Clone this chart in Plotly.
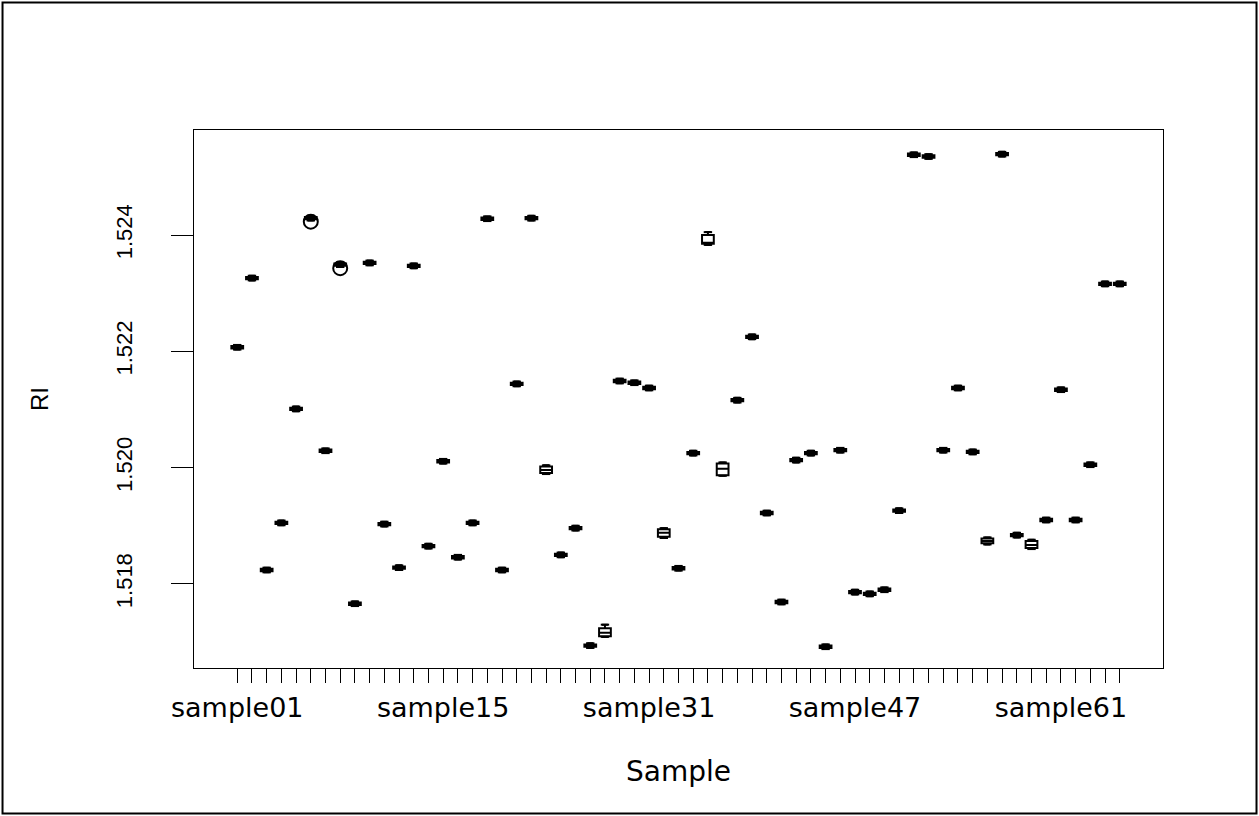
import plotly.graph_objects as go

samples = ["sample01", "sample02", "sample03", "sample04", "sample05", "sample06", "sample07", "sample08",
           "sample09", "sample10", "sample11", "sample12", "sample13", "sample14", "sample15", "sample16",
           "sample17", "sample18", "sample19", "sample20", "sample22", "sample23", "sample24", "sample25",
           "sample27", "sample28", "sample29", "sample30", "sample31", "sample32", "sample33", "sample34",
           "sample35", "sample36", "sample38", "sample39", "sample40", "sample41", "sample43", "sample44",
           "sample45", "sample46", "sample47", "sample48", "sample49", "sample50", "sample51", "sample52",
           "sample53", "sample54", "sample55", "sample56", "sample57", "sample58", "sample59", "sample60",
           "sample61", "sample62", "sample63", "sample64", "sample65"]

shown_labels = ["sample01", "sample15", "sample31", "sample47", "sample61"]

median = [1.52207, 1.52326, 1.51824, 1.51905, 1.52101, 1.52429, 1.52029, 1.52349, 1.51766, 1.52352,
          1.51903, 1.51828, 1.52347, 1.51865, 1.52011, 1.51846, 1.51905, 1.52428, 1.51824, 1.52144,
          1.52429, 1.51996, 1.51850, 1.51896, 1.51694, 1.51716, 1.52149, 1.52146, 1.52137, 1.51888,
          1.51827, 1.52025, 1.52386, 1.51998, 1.52116, 1.52225, 1.51922, 1.51769, 1.52013, 1.52025,
          1.51692, 1.52030, 1.51786, 1.51783, 1.51790, 1.51926, 1.52538, 1.52535, 1.52030, 1.52137,
          1.52027, 1.51874, 1.52539, 1.51884, 1.51867, 1.51910, 1.52134, 1.51910, 1.52005, 1.52316,
          1.52316]

q1 = [1.52205, 1.52324, 1.51822, 1.51903, 1.52099, 1.52427, 1.52027, 1.52347, 1.51764, 1.52350,
      1.51901, 1.51826, 1.52345, 1.51863, 1.52009, 1.51844, 1.51903, 1.52426, 1.51822, 1.52142,
      1.52427, 1.51991, 1.51848, 1.51894, 1.51692, 1.51710, 1.52147, 1.52144, 1.52135, 1.51881,
      1.51825, 1.52023, 1.52385, 1.51987, 1.52114, 1.52223, 1.51920, 1.51767, 1.52011, 1.52023,
      1.51690, 1.52028, 1.51784, 1.51781, 1.51788, 1.51924, 1.52536, 1.52533, 1.52028, 1.52135,
      1.52025, 1.51870, 1.52537, 1.51882, 1.51862, 1.51908, 1.52132, 1.51908, 1.52003, 1.52314,
      1.52314]

q3 = [1.52209, 1.52328, 1.51826, 1.51907, 1.52103, 1.52431, 1.52031, 1.52351, 1.51768, 1.52354,
      1.51905, 1.51830, 1.52349, 1.51867, 1.52013, 1.51848, 1.51907, 1.52430, 1.51826, 1.52146,
      1.52431, 1.52002, 1.51852, 1.51898, 1.51696, 1.51724, 1.52151, 1.52148, 1.52139, 1.51894,
      1.51829, 1.52027, 1.52400, 1.52007, 1.52118, 1.52227, 1.51924, 1.51771, 1.52015, 1.52027,
      1.51694, 1.52032, 1.51788, 1.51785, 1.51792, 1.51928, 1.52540, 1.52537, 1.52032, 1.52139,
      1.52029, 1.51878, 1.52541, 1.51886, 1.51874, 1.51912, 1.52136, 1.51912, 1.52007, 1.52318,
      1.52318]

lower = [1.52203, 1.52322, 1.51820, 1.51901, 1.52097, 1.52425, 1.52025, 1.52345, 1.51762, 1.52348,
         1.51899, 1.51824, 1.52343, 1.51861, 1.52007, 1.51842, 1.51901, 1.52424, 1.51820, 1.52140,
         1.52425, 1.51989, 1.51846, 1.51892, 1.51690, 1.51709, 1.52145, 1.52142, 1.52133, 1.51879,
         1.51823, 1.52021, 1.52383, 1.51986, 1.52112, 1.52221, 1.51918, 1.51765, 1.52009, 1.52021,
         1.51688, 1.52026, 1.51782, 1.51779, 1.51786, 1.51922, 1.52534, 1.52531, 1.52026, 1.52133,
         1.52023, 1.51868, 1.52535, 1.51880, 1.51860, 1.51906, 1.52130, 1.51906, 1.52001, 1.52312,
         1.52312]

upper = [1.52211, 1.52330, 1.51828, 1.51909, 1.52105, 1.52433, 1.52033, 1.52353, 1.51770, 1.52356,
         1.51907, 1.51832, 1.52351, 1.51869, 1.52015, 1.51850, 1.51909, 1.52432, 1.51828, 1.52148,
         1.52433, 1.52004, 1.51854, 1.51900, 1.51698, 1.51730, 1.52153, 1.52150, 1.52141, 1.51896,
         1.51831, 1.52029, 1.52405, 1.52009, 1.52120, 1.52229, 1.51926, 1.51773, 1.52017, 1.52029,
         1.51696, 1.52034, 1.51790, 1.51787, 1.51794, 1.51930, 1.52542, 1.52539, 1.52034, 1.52141,
         1.52031, 1.51880, 1.52543, 1.51888, 1.51876, 1.51914, 1.52138, 1.51914, 1.52009, 1.52320,
         1.52320]

outlier_samples = ["sample06", "sample08"]
outlier_values = [1.52423, 1.52343]

y_ticks = [1.518, 1.520, 1.522, 1.524]
y_ticklabels = ["1.518", "1.520", "1.522", "1.524"]

positions = list(range(1, len(samples) + 1))
pos_of = dict(zip(samples, positions))

fig = go.Figure()

fig.add_trace(go.Box(
    x=positions, q1=q1, median=median, q3=q3, lowerfence=lower, upperfence=upper,
    width=0.8, fillcolor="white", line=dict(color="black", width=2),
    boxpoints=False, hoverinfo="skip"))

# staples at whisker ends
fig.add_trace(go.Scatter(
    x=positions + positions, y=lower + upper, mode="markers",
    marker=dict(symbol="line-ew", size=6, line=dict(color="black", width=2)),
    hoverinfo="skip"))

# outliers
fig.add_trace(go.Scatter(
    x=[pos_of[s] for s in outlier_samples], y=outlier_values, mode="markers",
    marker=dict(symbol="circle-open", size=14, color="black", line=dict(color="black", width=2)),
    hoverinfo="skip"))

fig.update_layout(
    width=1259, height=816,
    margin=dict(l=194, r=96, t=130, b=148),
    plot_bgcolor="white", paper_bgcolor="white",
    showlegend=False,
    font=dict(family="Liberation Sans, Arial, sans-serif", color="black", size=22),
    xaxis=dict(
        range=[-1.94, 63.94], tickmode="array", tickvals=positions,
        ticktext=[s if s in shown_labels else "" for s in samples],
        ticks="outside", ticklen=14, tickwidth=1, tickcolor="black",
        tickfont=dict(family="DejaVu Sans", size=27), ticklabelstandoff=2,
        showline=True, mirror=True, linecolor="black", linewidth=1,
        showgrid=False, zeroline=False,
        title=dict(text="Sample", font=dict(family="DejaVu Sans", size=28), standoff=38)),
    yaxis=dict(
        range=[1.516555, 1.525806], tickmode="array", tickvals=y_ticks, ticktext=y_ticklabels,
        tickangle=-90, ticks="outside", ticklen=22, tickwidth=1, tickcolor="black",
        tickfont=dict(size=22), ticklabelstandoff=30,
        showline=True, mirror=True, linecolor="black", linewidth=1,
        showgrid=False, zeroline=False,
        title=dict(text="RI", font=dict(size=24), standoff=56)),
    shapes=[dict(type="rect", xref="paper", yref="paper",
                 x0=-0.1976, x1=1.0965, y0=-0.2704, y1=1.2370,
                 line=dict(color="black", width=2))]
)

fig.write_html("out.html")
